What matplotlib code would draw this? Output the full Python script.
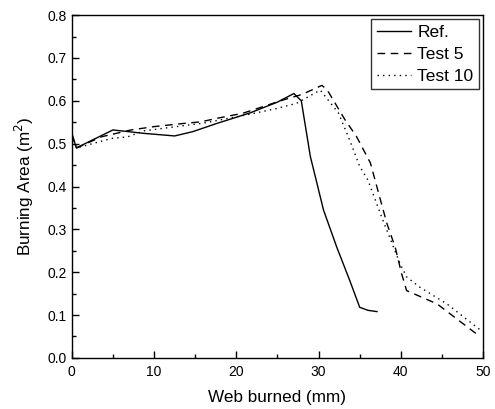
import matplotlib
matplotlib.use("Agg")
import matplotlib.pyplot as plt
from matplotlib.ticker import MultipleLocator

plt.rcParams['font.family'] = ['Liberation Sans', 'DejaVu Sans']

ref_x = [0, 0.55, 5.0, 8.8, 12.5, 14.7, 17.6, 21.7, 25.0, 27.0, 27.9, 29.0, 30.0, 30.6, 32.2, 33.8, 35.0, 36.0, 37.1]
ref_y = [0.525, 0.49, 0.532, 0.524, 0.518, 0.528, 0.547, 0.572, 0.597, 0.617, 0.600, 0.47, 0.392, 0.345, 0.259, 0.18, 0.118, 0.111, 0.108]

t5_x = [0, 0.6, 3.6, 7.2, 10.1, 13.5, 15.7, 17.6, 20.8, 25.7, 28.0, 30.4, 31.0, 33.2, 34.6, 36.3, 37.5, 38.3, 39.3, 40.1, 40.7, 44.4, 49.6]
t5_y = [0.52, 0.49, 0.516, 0.532, 0.540, 0.547, 0.551, 0.559, 0.571, 0.602, 0.615, 0.636, 0.627, 0.556, 0.517, 0.455, 0.37, 0.314, 0.259, 0.196, 0.157, 0.126, 0.05]

t10_x = [0, 0.6, 1.95, 4.8, 6.8, 8.8, 12.0, 16.0, 21.7, 24.9, 27.3, 30.2, 32.4, 33.6, 35.0, 36.0, 37.5, 39.1, 39.9, 40.7, 42.3, 45.6, 49.8]
t10_y = [0.52, 0.49, 0.497, 0.512, 0.516, 0.53, 0.538, 0.548, 0.569, 0.582, 0.594, 0.625, 0.572, 0.517, 0.447, 0.415, 0.337, 0.259, 0.22, 0.189, 0.165, 0.126, 0.063]

x_ticks = [0, 10, 20, 30, 40, 50]
y_ticks = [0.0, 0.1, 0.2, 0.3, 0.4, 0.5, 0.6, 0.7, 0.8]

fig = plt.figure(figsize=(4.95, 4.09), dpi=100)
ax = fig.add_axes([0.145, 0.125, 0.831, 0.838])

ax.plot(ref_x, ref_y, color='black', lw=1.0, ls='-', label='Ref.')
ax.plot(t5_x, t5_y, color='black', lw=1.0, ls=(0, (5.5, 4)), label='Test 5')
ax.plot(t10_x, t10_y, color='black', lw=1.0, ls=(0, (1, 3)), label='Test 10')

ax.set_xlim(0, 50)
ax.set_ylim(0, 0.8)
ax.set_xticks(x_ticks)
ax.set_yticks(y_ticks)
ax.set_yticklabels([f"{v:.1f}" for v in y_ticks])
ax.xaxis.set_minor_locator(MultipleLocator(5))
ax.yaxis.set_minor_locator(MultipleLocator(0.05))
ax.tick_params(which='both', direction='in', top=False, right=False, labelsize=10, width=1)
ax.tick_params(which='major', length=5)
ax.tick_params(which='minor', length=3)
ax.tick_params(axis='x', pad=5)
for s in ax.spines.values():
    s.set_linewidth(1.0)

ax.set_xlabel('Web burned (mm)', fontsize=12.3, labelpad=8)
ax.set_ylabel('Burning Area (m$^2$)', fontsize=12.3, labelpad=8)

leg = ax.legend(loc='upper right', fontsize=12.5, frameon=True, fancybox=False,
                edgecolor='#333333', framealpha=1, borderpad=0.3, handlelength=2.0,
                handletextpad=0.35, labelspacing=0.4, borderaxespad=0.25)
leg.get_frame().set_linewidth(1.0)

fig.savefig('out.png', dpi=100)
